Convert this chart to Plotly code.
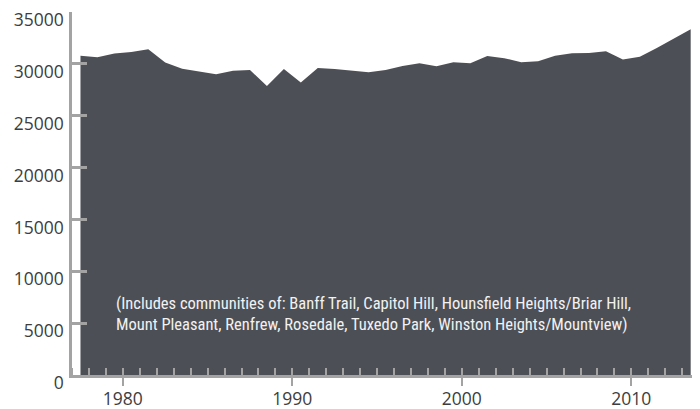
import plotly.graph_objects as go

years = list(range(1977, 2014))
population = [30790, 30640, 31000, 31150, 31410, 30120, 29540, 29290, 29000, 29340,
              29410, 27870, 29510, 28210, 29600, 29510, 29360, 29190, 29410, 29800,
              30060, 29770, 30160, 30060, 30760, 30550, 30160, 30250, 30780, 31020,
              31050, 31220, 30410, 30680, 31530, 32450, 33340]
x_ticks = [1980, 1990, 2000, 2010]
y_ticks = [0, 5000, 10000, 15000, 20000, 25000, 30000, 35000]
y_tick_labels = [str(v) for v in y_ticks]
note = ("(Includes communities of: Banff Trail, Capitol Hill, Hounsfield Heights/Briar Hill,<br>"
        "Mount Pleasant, Renfrew, Rosedale, Tuxedo Park, Winston Heights/Mountview)")

# points sit at mid-year
xs = [y + 0.5 for y in years]

AX = "#a3a3a3"
FILL = "#4d4f56"

fig = go.Figure()
fig.add_trace(go.Scatter(x=xs, y=population, mode="lines", fill="tozeroy",
                         fillcolor=FILL, line=dict(width=0, color=FILL),
                         hoverinfo="skip", showlegend=False))

fig.add_annotation(text=note, xref="x", yref="y", x=1979.45, y=5900,
                   xanchor="left", yanchor="middle", align="left", showarrow=False,
                   font=dict(family="Liberation Sans Narrow, Roboto Condensed, DejaVu Sans Condensed, sans-serif",
                             size=16.5, color="#f2f2f2"))

# the page body adds an 8px offset, so margins are set to compensate
fig.update_layout(
    width=700, height=409,
    margin=dict(l=64, r=8, t=4, b=42),
    paper_bgcolor="white", plot_bgcolor="white",
    font=dict(family="Open Sans", size=17.5, color="#3d3d3d"),
    xaxis=dict(range=[1977, 2014.05], tickvals=x_ticks, ticks="outside", ticklen=8,
               tickwidth=2, tickcolor=AX, showline=True, linecolor=AX, linewidth=2.5,
               showgrid=False, zeroline=False, automargin=False,
               ticklabelstandoff=-2, ticklabeloverflow="allow",
               minor=dict(ticks="inside", ticklen=7, tickwidth=2, tickcolor=AX,
                          dtick=1, tick0=1977, showgrid=False)),
    yaxis=dict(range=[0, 35000], tickvals=y_ticks, ticktext=y_tick_labels,
               ticks="inside", ticklen=15, automargin=False,
               tickwidth=2.5, tickcolor=AX, showline=True, linecolor=AX, linewidth=2.5,
               showgrid=False, zeroline=False, ticklabelshift=8, ticklabelstandoff=2,
               ticklabeloverflow="allow"),
)

fig.write_html("out.html")
